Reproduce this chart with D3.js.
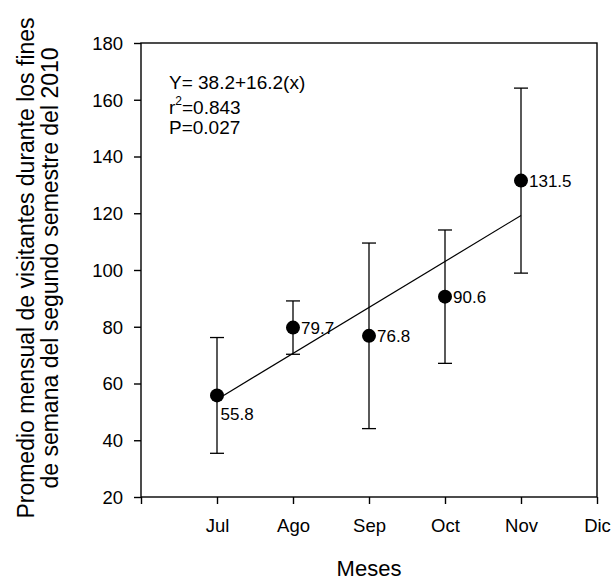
<!DOCTYPE html>
<html>
<head>
<meta charset="utf-8">
<script src="https://cdn.jsdelivr.net/npm/d3@7"></script>
<style>
  body { margin:0; background:#fff; }
  text { font-family: "Liberation Sans", Arial, Helvetica, sans-serif; fill:#000; }
</style>
</head>
<body>
<svg id="chart" width="612" height="581"></svg>
<script>
// data
var months   = ["Jul","Ago","Sep","Oct","Nov"];
var tickText = ["","Jul","Ago","Sep","Oct","Nov","Dic"];
var means    = [55.8, 79.7, 76.8, 90.6, 131.5];
var sd       = [20.4, 9.4, 32.7, 23.5, 32.6];
var yTicks   = [20,40,60,80,100,120,140,160,180];
var fit      = [38.2, 16.2];   // intercept, slope

var svg = d3.select("#chart");
var pL=141, pR=597, pT=43, pB=497;

var x = d3.scaleLinear().domain([0,6]).range([pL,pR]);
var y = d3.scaleLinear().domain([20,180]).range([pB,pT]);

var pts = months.map(function(m,i){ return {name:m, i:i+1, v:means[i], sd:sd[i]}; });

// frame
svg.append("rect")
   .attr("x",pL).attr("y",pT)
   .attr("width",pR-pL).attr("height",pB-pT)
   .attr("fill","none").attr("stroke","#000").attr("stroke-width",1.4);

// y axis
var ya = svg.append("g").attr("transform","translate("+pL+",0)")
    .call(d3.axisLeft(y).tickValues(yTicks).tickSize(7).tickPadding(11).tickFormat(d3.format("d")));
ya.select(".domain").remove();
ya.selectAll("line").attr("stroke","#000").attr("stroke-width",1.4);
ya.selectAll("text").style("font-size","18.5px").attr("dy","0.35em");

// x axis
var xa = svg.append("g").attr("transform","translate(0,"+pB+")")
    .call(d3.axisBottom(x).tickValues(d3.range(0,7)).tickSize(7).tickPadding(0)
          .tickFormat(function(d){ return tickText[d]; }));
xa.select(".domain").remove();
xa.selectAll("line").attr("stroke","#000").attr("stroke-width",1.4);
xa.selectAll("text").style("font-size","18.5px").attr("y",34.7).attr("dy",0);

// regression line
svg.append("line")
   .attr("x1",x(1)).attr("y1",y(fit[0]+fit[1]*1))
   .attr("x2",x(5)).attr("y2",y(fit[0]+fit[1]*5))
   .attr("stroke","#000").attr("stroke-width",1.2);

// error bars
var eb = svg.selectAll(".eb").data(pts).enter().append("g").attr("class","eb");
eb.append("line")
  .attr("x1",function(d){return x(d.i);}).attr("x2",function(d){return x(d.i);})
  .attr("y1",function(d){return y(d.v-d.sd);}).attr("y2",function(d){return y(d.v+d.sd);})
  .attr("stroke","#000").attr("stroke-width",1.3);
[-1,1].forEach(function(s){
  eb.append("line")
    .attr("x1",function(d){return x(d.i)-7;}).attr("x2",function(d){return x(d.i)+7;})
    .attr("y1",function(d){return y(d.v+s*d.sd);}).attr("y2",function(d){return y(d.v+s*d.sd);})
    .attr("stroke","#000").attr("stroke-width",1.3);
});

// points
svg.selectAll(".pt").data(pts).enter().append("circle")
   .attr("class","pt")
   .attr("cx",function(d){return x(d.i);})
   .attr("cy",function(d){return y(d.v);})
   .attr("r",7).attr("fill","#000");

// value labels
svg.selectAll(".lbl").data(pts).enter().append("text")
   .attr("class","lbl")
   .attr("x",function(d,i){ return x(d.i) + (i==0 ? 3.5 : 8); })
   .attr("y",function(d,i){ return y(d.v) + (i==0 ? 25 : 6); })
   .style("font-size","17px")
   .text(function(d){ return d.v.toFixed(1); });

// regression annotation
var ann = svg.append("g").style("font-size","19px");
ann.append("text").attr("x",169).attr("y",89.3).text("Y= "+fit[0]+"+"+fit[1]+"(x)");
var r2 = ann.append("text").attr("x",169).attr("y",114.3);
r2.append("tspan").text("r");
r2.append("tspan").attr("dy",-9).style("font-size","12px").text("2");
r2.append("tspan").attr("dy",9).text("=0.843");
ann.append("text").attr("x",169).attr("y",134).text("P=0.027");

// axis titles
svg.append("text")
   .attr("x",(pL+pR)/2).attr("y",576)
   .attr("text-anchor","middle").style("font-size","22px")
   .text("Meses");

var yt = svg.append("text")
   .attr("transform","translate(34,268) rotate(-90)")
   .attr("text-anchor","middle").style("font-size","23px");
yt.append("tspan").attr("x",0).attr("y",0)
  .text("Promedio mensual de visitantes durante los fines");
yt.append("tspan").attr("x",0).attr("y",24)
  .text("de semana del segundo semestre del 2010");
</script>
</body>
</html>
